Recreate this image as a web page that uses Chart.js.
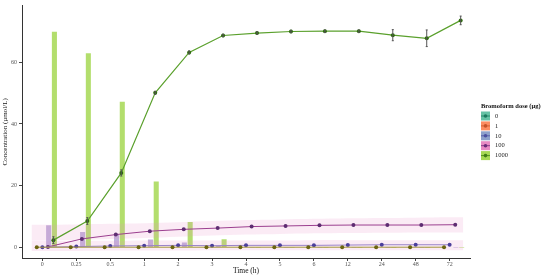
<!DOCTYPE html>
<html>
<head>
<meta charset="utf-8">
<script src="https://cdn.jsdelivr.net/npm/chart.js@4.4.1/dist/chart.umd.min.js"></script>
<style>
  body { margin: 0; background: #fff; }
  canvas { display: block; }
</style>
</head>
<body>
<canvas id="chart" width="550" height="278"></canvas>
<script>
// Time points (h) and doses
const times = ['0', '0.25', '0.5', '1', '2', '3', '4', '5', '6', '12', '24', '48', '72'];
const doses = ['0', '1', '10', '100', '1000'];
const yTicks = [0, 20, 40, 60];

// Concentration (µmol/L) per dose
const conc1 = [0, 0, 0, 0, 0, 0, 0, 0, 0, 0, 0, 0, 0];
const conc10 = [0, 0.2, 0.4, 0.5, 0.6, 0.5, 0.6, 0.6, 0.6, 0.7, 0.8, 0.8, 0.8];
const conc100 = [0.1, 2.7, 4.1, 5.2, 5.8, 6.2, 6.7, 6.9, 7.1, 7.2, 7.2, 7.2, 7.3];
const conc1000 = [2.3, 8.5, 24.1, 50.1, 63.2, 68.7, 69.5, 70, 70.1, 70.1, 68.8, 67.8, 73.6];
const err1000 = [1.1, 1.1, 1.0, 0.5, 0.5, 0.4, 0.4, 0.4, 0.4, 0.4, 1.8, 2.7, 1.4];

// bars
const bars100 = [7.0, 4.8, 4.2, 2.4, 1.4, 0.3, 0, 0, 0, 0, 0, 0, 0];
const bars1000 = [69.8, 62.8, 47.1, 21.2, 8.1, 2.5, 0, 0, 0, 0, 0, 0, 0];

// shaded bands
const band10Lo = [-1.2, -1.2, -1.1, -1.1, -1.1, -1.0, -1.0, -1.0, -1.0, -1.0, -1.0, -1.0, -1.0];
const band10Hi = [2.1, 2.1, 2.1, 2.2, 2.2, 2.2, 2.2, 2.2, 2.3, 2.3, 2.3, 2.3, 2.3];
const band100Lo = [2.2, 2.4, 2.7, 3.0, 3.4, 3.8, 4.1, 4.3, 4.5, 4.6, 4.7, 4.8, 4.8];
const band100Hi = [7.3, 7.4, 7.6, 7.8, 8.1, 8.5, 8.8, 9.0, 9.2, 9.4, 9.5, 9.6, 9.7];

const keyColors = ['#66c2a5', '#fc8d62', '#8da0cb', '#e78ac3', '#a6d854'];
const dotColors = ['#1b7a5e', '#c4532a', '#4b4fa0', '#6a2b78', '#3f7d14'];
const dodge = [-0.333, -0.165, 0, 0.165, 0.325];
const serif = '"Liberation Serif", "DejaVu Serif", serif';

function toXY(values, shift) {
    return values.map((v, i) => ({ x: i + shift, y: v }));
}

function band(values) {
    const pts = toXY(values, 0);
    pts.unshift({ x: -0.32, y: values[0] });
    pts.push({ x: values.length - 1 + 0.4, y: values[values.length - 1] });
    return pts;
}

function lineSet(label, values, shift, line, dot, width) {
    return {
        type: 'line', label: label, data: toXY(values, shift),
        borderColor: line, borderWidth: width, backgroundColor: dot,
        pointRadius: 2, pointBorderWidth: 0, pointBackgroundColor: dot,
        tension: 0, fill: false, order: 1
    };
}

function barSet(label, values, shift, color) {
    return {
        type: 'bar', label: label, data: toXY(values, shift),
        backgroundColor: color, borderWidth: 0, barThickness: 4.4,
        grouped: false, order: 4
    };
}

function bandSet(label, values, fillTo) {
    return {
        type: 'line', label: label, data: band(values),
        borderWidth: 0, borderColor: 'rgba(0,0,0,0)', pointRadius: 0,
        backgroundColor: 'rgba(231, 138, 195, 0.17)',
        fill: fillTo, tension: 0.3, order: 2
    };
}

const errorBars = {
    id: 'errorBars',
    afterDatasetsDraw(chart) {
        const ctx = chart.ctx;
        const x = chart.scales.x, y = chart.scales.y;
        ctx.save();
        ctx.strokeStyle = '#555';
        ctx.lineWidth = 1;
        conc1000.forEach((v, i) => {
            const px = x.getPixelForValue(i + dodge[4]);
            const top = y.getPixelForValue(v + err1000[i]);
            const bot = y.getPixelForValue(v - err1000[i]);
            ctx.beginPath();
            ctx.moveTo(px, top); ctx.lineTo(px, bot);
            ctx.moveTo(px - 1, top); ctx.lineTo(px + 1, top);
            ctx.moveTo(px - 1, bot); ctx.lineTo(px + 1, bot);
            ctx.stroke();
        });
        ctx.restore();
    }
};

const doseLegend = {
    id: 'doseLegend',
    afterDraw(chart) {
        const ctx = chart.ctx;
        const left = 481, top = 106;
        ctx.save();
        ctx.fillStyle = '#111';
        ctx.font = 'bold 6.5px ' + serif;
        ctx.textBaseline = 'middle';
        ctx.fillText('Bromoform dose (µg)', left, top);
        doses.forEach((d, i) => {
            const cy = top + 10 + i * 9.9;
            ctx.fillStyle = keyColors[i];
            ctx.fillRect(left, cy - 4.5, 9, 9);
            ctx.strokeStyle = dotColors[i];
            ctx.lineWidth = 0.8;
            ctx.beginPath();
            ctx.moveTo(left, cy); ctx.lineTo(left + 9, cy);
            ctx.stroke();
            ctx.fillStyle = dotColors[i];
            ctx.beginPath();
            ctx.arc(left + 4.5, cy, 1.8, 0, Math.PI * 2);
            ctx.fill();
            ctx.fillStyle = '#222';
            ctx.font = '6.5px ' + serif;
            ctx.fillText(d, left + 14, cy);
        });
        ctx.restore();
    }
};

new Chart(document.getElementById('chart').getContext('2d'), {
    type: 'line',
    data: {
        datasets: [
            barSet('bars 1000', bars1000, dodge[4] + 0.03, 'rgba(166, 216, 84, 0.85)'),
            barSet('bars 100', bars100, dodge[3] + 0.02, 'rgba(150, 125, 195, 0.6)'),
            bandSet('band 10 low', band10Lo, '+1'),
            bandSet('band 10 high', band10Hi, false),
            bandSet('band 100 low', band100Lo, '+1'),
            bandSet('band 100 high', band100Hi, false),
            lineSet('1', conc1, dodge[1], '#a3973a', '#6a6410', 1),
            lineSet('10', conc10, dodge[2], '#9a84c8', '#4b3f9c', 1),
            lineSet('100', conc100, dodge[3], '#9b3f8f', '#5e2d72', 1),
            lineSet('1000', conc1000, dodge[4], '#5aa02c', '#2e6b0e', 1.2)
        ]
    },
    options: {
        responsive: false,
        animation: false,
        devicePixelRatio: 1,
        layout: { padding: { top: 3, right: 80, left: 0, bottom: 0 } },
        plugins: { legend: { display: false }, tooltip: { enabled: false } },
        scales: {
            x: {
                type: 'linear', min: -0.6, max: 12.6, offset: false,
                afterBuildTicks: (axis) => { axis.ticks = times.map((t, i) => ({ value: i })); },
                afterFit: (s) => { s.height = 20; },
                ticks: {
                    callback: (v) => times[v], color: '#555', padding: 0,
                    font: { family: serif, size: 6 }, maxRotation: 0, autoSkip: false
                },
                grid: { display: true, drawOnChartArea: false, drawTicks: true, tickLength: 3, color: '#444', offset: false },
                border: { display: true, color: '#333', width: 1 },
                title: {
                    display: true, text: 'Time (h)', color: '#111',
                    font: { family: serif, size: 7.5 }, padding: { top: 0, bottom: 2 }
                }
            },
            y: {
                min: -3.5, max: 78.4,
                afterBuildTicks: (axis) => { axis.ticks = yTicks.map((v) => ({ value: v })); },
                afterFit: (s) => { s.width = 22; },
                ticks: { color: '#555', padding: 2, font: { family: serif, size: 6 } },
                grid: { display: true, drawOnChartArea: false, drawTicks: true, tickLength: 3, color: '#444' },
                border: { display: true, color: '#333', width: 1 },
                title: {
                    display: true, text: 'Concentration (µmol/L)', color: '#111',
                    font: { family: serif, size: 7, lineHeight: 1.5 }, padding: 0
                }
            }
        }
    },
    plugins: [errorBars, doseLegend]
});
</script>
</body>
</html>
